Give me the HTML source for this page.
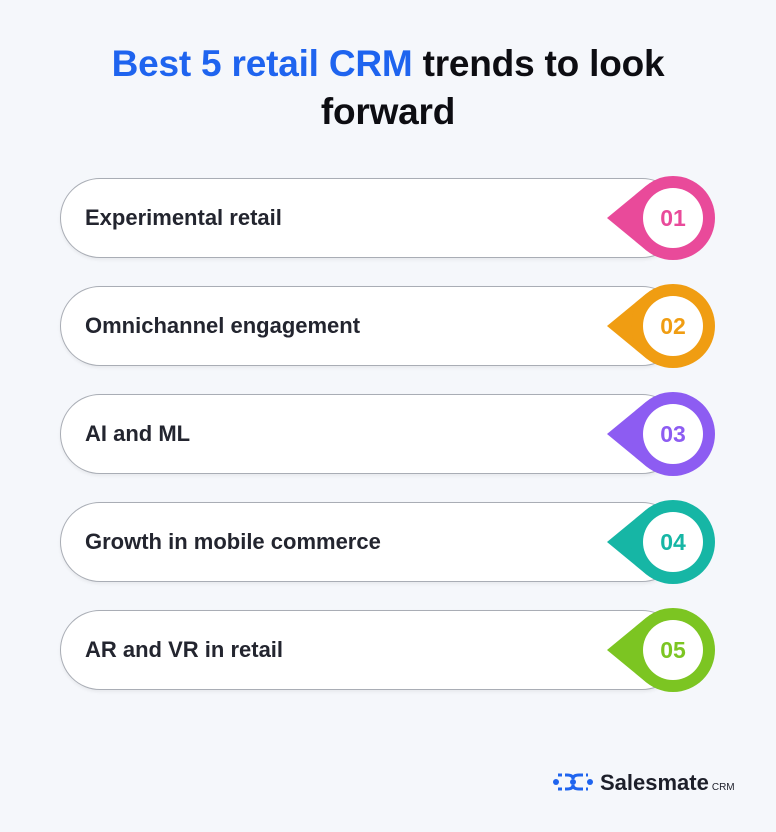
<!DOCTYPE html>
<html><head><meta charset="utf-8"><style>
body{margin:0;width:776px;height:832px;background:#f5f7fb;font-family:"Liberation Sans",sans-serif;position:relative;overflow:hidden}
h1{position:absolute;left:0;top:40px;width:776px;margin:0;text-align:center;font-size:37px;line-height:48px;font-weight:bold;color:#0d0d12;letter-spacing:-0.2px}
h1 span{color:#1f64ef}
.row{position:absolute;left:60px;width:620px;height:78px;border:1px solid #a9adb5;border-radius:40px;background:#fff;box-shadow:0 2px 3px rgba(0,0,0,0.06)}
.row .t{position:absolute;left:24px;top:0;line-height:78px;font-size:22px;color:#23252f;font-weight:bold}
svg.p{position:absolute;left:600px;width:120px;height:90px}
.logo{position:absolute;left:553px;top:770px;font-size:22px;font-weight:bold;color:#1d1f2a}
</style></head><body>
<h1><span>Best 5 retail CRM</span> trends to look<br>forward</h1>

<div class="row" style="top:178px"><div class="t">Experimental retail</div></div>
<div class="row" style="top:286px"><div class="t">Omnichannel engagement</div></div>
<div class="row" style="top:394px"><div class="t">AI and ML</div></div>
<div class="row" style="top:502px"><div class="t">Growth in mobile commerce</div></div>
<div class="row" style="top:610px"><div class="t">AR and VR in retail</div></div>

<svg class="p" style="top:173px" viewBox="0 0 120 90"><polygon points="7,45 46.3,12.6 46.3,77.4" fill="#e94a9a"/><circle cx="73" cy="45" r="42" fill="#e94a9a"/><circle cx="73" cy="45" r="30" fill="#fff"/><text x="73" y="53" text-anchor="middle" font-size="23" font-weight="bold" font-family="Liberation Sans" fill="#e94a9a">01</text></svg>
<svg class="p" style="top:281px" viewBox="0 0 120 90"><polygon points="7,45 46.3,12.6 46.3,77.4" fill="#f09d12"/><circle cx="73" cy="45" r="42" fill="#f09d12"/><circle cx="73" cy="45" r="30" fill="#fff"/><text x="73" y="53" text-anchor="middle" font-size="23" font-weight="bold" font-family="Liberation Sans" fill="#f09d12">02</text></svg>
<svg class="p" style="top:389px" viewBox="0 0 120 90"><polygon points="7,45 46.3,12.6 46.3,77.4" fill="#8d5cf2"/><circle cx="73" cy="45" r="42" fill="#8d5cf2"/><circle cx="73" cy="45" r="30" fill="#fff"/><text x="73" y="53" text-anchor="middle" font-size="23" font-weight="bold" font-family="Liberation Sans" fill="#8d5cf2">03</text></svg>
<svg class="p" style="top:497px" viewBox="0 0 120 90"><polygon points="7,45 46.3,12.6 46.3,77.4" fill="#16b6a5"/><circle cx="73" cy="45" r="42" fill="#16b6a5"/><circle cx="73" cy="45" r="30" fill="#fff"/><text x="73" y="53" text-anchor="middle" font-size="23" font-weight="bold" font-family="Liberation Sans" fill="#16b6a5">04</text></svg>
<svg class="p" style="top:605px" viewBox="0 0 120 90"><polygon points="7,45 46.3,12.6 46.3,77.4" fill="#7cc522"/><circle cx="73" cy="45" r="42" fill="#7cc522"/><circle cx="73" cy="45" r="30" fill="#fff"/><text x="73" y="53" text-anchor="middle" font-size="23" font-weight="bold" font-family="Liberation Sans" fill="#7cc522">05</text></svg>

<svg style="position:absolute;left:552px;top:771px" width="42" height="22" viewBox="0 0 42 22">
<g fill="none" stroke="#1f64ef" stroke-width="3" stroke-dasharray="4 3">
<path d="M6,4 H15 M6,18 H15 M27,4 H36 M27,18 H36"/></g>
<circle cx="4" cy="11" r="3" fill="#1f64ef"/><circle cx="21" cy="11" r="3" fill="#1f64ef"/><circle cx="38" cy="11" r="3" fill="#1f64ef"/>
<path d="M15,4 Q21,4 21,8 M15,18 Q21,18 21,14 M27,4 Q21,4 21,8 M27,18 Q21,18 21,14" stroke="#1f64ef" stroke-width="3" fill="none"/>
</svg>
<div class="logo" style="left:600px">Salesmate<span style="font-size:10px;font-weight:normal;margin-left:3px">CRM</span></div>
</body></html>
